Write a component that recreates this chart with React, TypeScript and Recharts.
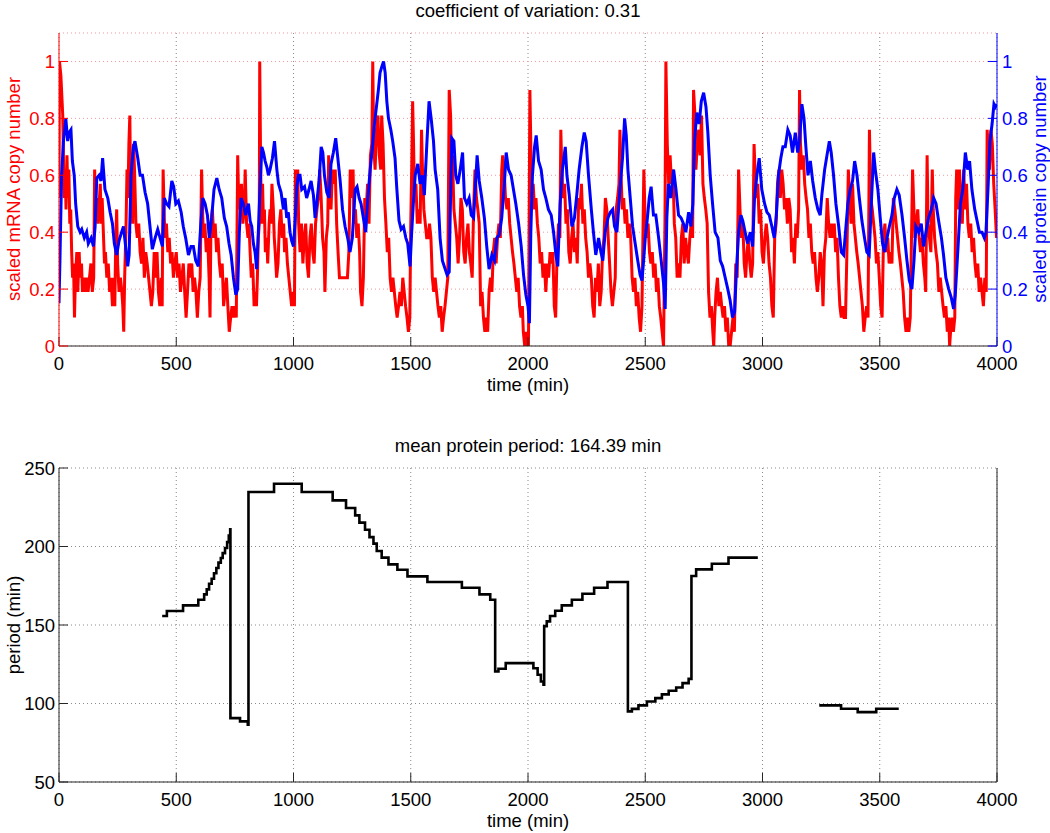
import React from 'react';
import { LineChart, Line, XAxis, YAxis, CartesianGrid } from 'recharts';

const FONT = '"Liberation Sans", Arial, Helvetica, sans-serif';
const FS = 18.5;

const timeTicks = [0, 500, 1000, 1500, 2000, 2500, 3000, 3500, 4000];
const scaledTicks = [0, 0.2, 0.4, 0.6, 0.8, 1];
const periodTicks = [50, 100, 150, 200, 250];

// scaled mRNA copy number: [time (min), value]
const mrnaPoints: [number, number][] = [
  [0,0.52],[2,1.0],[8,0.95],[16,0.81],[22,0.52],[26,0.62],[30,0.48],[34,0.67],[38,0.52],[42,0.62],[46,0.43],[50,0.48],[54,0.33],[58,0.24],[62,0.29],[66,0.1],[70,0.24],[76,0.33],[80,0.19],[86,0.33],[90,0.24],[96,0.29],[100,0.19],[106,0.24],[112,0.19],[118,0.24],[124,0.19],[130,0.24],[136,0.29],[142,0.19],[148,0.24],[152,0.62],[156,0.48],[160,0.52],[166,0.43],[170,0.48],[176,0.57],[180,0.43],[184,0.52],[190,0.38],[194,0.29],[198,0.33],[204,0.24],[210,0.29],[216,0.19],[222,0.24],[228,0.14],[234,0.24],[238,0.14],[242,0.38],[246,0.48],[250,0.29],[256,0.19],[262,0.24],[268,0.19],[272,0.14],[276,0.05],[280,0.24],[286,0.43],[290,0.62],[294,0.52],[298,0.71],[302,0.81],[306,0.52],[310,0.62],[314,0.43],[318,0.71],[322,0.62],[328,0.43],[334,0.38],[340,0.43],[346,0.33],[352,0.29],[358,0.38],[364,0.24],[370,0.33],[376,0.29],[382,0.24],[388,0.19],[394,0.14],[400,0.19],[406,0.33],[412,0.24],[418,0.33],[424,0.19],[430,0.14],[436,0.24],[440,0.14],[444,0.62],[448,0.48],[452,0.38],[458,0.43],[464,0.33],[470,0.38],[476,0.29],[482,0.33],[488,0.24],[494,0.29],[500,0.33],[506,0.24],[512,0.29],[518,0.19],[524,0.24],[530,0.29],[536,0.19],[542,0.1],[548,0.19],[554,0.29],[560,0.24],[566,0.29],[572,0.19],[578,0.24],[584,0.19],[590,0.1],[596,0.19],[602,0.24],[608,0.62],[612,0.48],[616,0.38],[622,0.43],[628,0.33],[634,0.38],[640,0.24],[644,0.1],[648,0.43],[654,0.48],[660,0.38],[666,0.43],[672,0.33],[678,0.38],[684,0.29],[690,0.24],[696,0.29],[702,0.14],[708,0.19],[714,0.24],[720,0.14],[726,0.05],[732,0.1],[738,0.14],[744,0.1],[750,0.14],[756,0.1],[762,0.67],[766,0.52],[772,0.48],[778,0.57],[784,0.43],[790,0.48],[794,0.62],[800,0.43],[806,0.38],[810,0.43],
  [815,0.33],[820,0.24],[826,0.29],[832,0.14],[838,0.19],[842,0.14],[846,0.24],[850,0.38],[854,0.43],[856,1.0],[860,0.62],[864,0.43],[868,0.57],[872,0.43],[876,0.48],[880,0.33],[886,0.38],[890,0.29],[896,0.43],[900,0.48],[904,0.43],[908,0.57],[914,0.48],[918,0.38],[922,0.33],[928,0.24],[934,0.29],[940,0.43],[946,0.48],[952,0.38],[958,0.43],[962,0.33],[968,0.38],[974,0.29],[980,0.24],[986,0.19],[992,0.14],[998,0.19],[1004,0.14],[1008,0.62],[1012,0.48],[1018,0.62],[1022,0.43],[1028,0.33],[1034,0.43],[1040,0.29],[1046,0.38],[1052,0.43],[1058,0.29],[1064,0.24],[1070,0.38],[1076,0.43],[1082,0.33],[1088,0.29],[1094,0.43],[1100,0.48],[1106,0.52],[1112,0.62],[1118,0.52],[1124,0.38],[1130,0.33],[1134,0.19],[1140,0.38],[1146,0.43],[1150,0.67],[1154,0.52],[1160,0.48],[1166,0.62],[1172,0.57],[1178,0.62],[1184,0.43],[1190,0.33],[1196,0.24],[1230,0.24],[1236,0.33],[1242,0.62],[1248,0.52],[1254,0.62],[1258,0.43],[1264,0.48],[1270,0.38],[1276,0.43],[1282,0.33],[1286,0.19],[1292,0.14],[1298,0.24],[1304,0.52],[1310,0.48],[1316,0.57],[1322,0.43],[1328,0.67],[1334,0.71],[1338,1.0],[1342,0.71],[1348,0.62],[1354,0.76],[1360,0.81],[1366,0.67],[1372,0.62],[1376,0.81],[1382,0.71],[1388,0.52],[1394,0.43],[1400,0.33],[1406,0.38],[1412,0.24],[1418,0.19],[1424,0.24],[1430,0.19],[1436,0.14],[1442,0.1],[1448,0.14],[1454,0.19],[1460,0.14],[1466,0.24],[1472,0.19],[1478,0.14],[1484,0.1],[1490,0.05],[1496,0.1],[1500,0.43],[1504,0.62],[1508,0.86],[1512,0.71],[1516,0.52],[1522,0.57],[1528,0.43],[1534,0.48],[1540,0.43],[1546,0.76],[1550,0.62],[1556,0.48],[1562,0.43],[1568,0.38],[1574,0.38],[1580,0.43],[1586,0.38],[1592,0.24],[1598,0.19],
  [1604,0.24],[1610,0.19],[1616,0.14],[1622,0.1],[1628,0.14],[1634,0.05],[1640,0.1],[1646,0.14],[1652,0.19],[1658,0.24],[1664,0.9],[1670,0.81],[1674,0.62],[1678,0.67],[1684,0.48],[1690,0.43],[1696,0.38],[1702,0.29],[1708,0.38],[1714,0.52],[1720,0.48],[1726,0.33],[1732,0.29],[1738,0.38],[1744,0.43],[1750,0.33],[1756,0.29],[1762,0.24],[1768,0.48],[1774,0.62],[1780,0.52],[1786,0.48],[1792,0.43],[1798,0.14],[1804,0.19],[1810,0.1],[1816,0.05],[1822,0.1],[1828,0.05],[1834,0.19],[1840,0.24],[1846,0.19],[1852,0.33],[1858,0.38],[1864,0.29],[1870,0.38],[1876,0.43],[1882,0.38],[1888,0.62],[1892,0.67],[1898,0.62],[1904,0.52],[1910,0.48],[1916,0.52],[1922,0.43],[1928,0.38],[1934,0.33],[1940,0.29],[1946,0.24],[1952,0.19],[1958,0.24],[1964,0.14],[1970,0.1],[1976,0.14],[1980,0.05],[1986,0],[1992,0.05],[1998,0],
  [2002,0],[2008,0.9],[2012,0.71],[2016,0.52],[2022,0.57],[2028,0.48],[2034,0.52],[2040,0.43],[2046,0.38],[2052,0.29],[2058,0.33],[2064,0.24],[2070,0.29],[2076,0.19],[2082,0.29],[2088,0.24],[2094,0.33],[2100,0.29],[2106,0.33],[2112,0.14],[2118,0.1],[2124,0.33],[2130,0.43],[2136,0.38],[2140,0.76],[2144,0.62],[2150,0.52],[2156,0.57],[2162,0.43],[2168,0.48],[2174,0.33],[2180,0.29],[2186,0.38],[2192,0.43],[2198,0.33],[2204,0.38],[2210,0.29],[2216,0.52],[2222,0.48],[2228,0.57],[2234,0.43],[2240,0.48],[2246,0.38],[2252,0.33],[2258,0.24],[2264,0.29],[2270,0.24],[2276,0.14],[2282,0.1],[2288,0.24],[2294,0.19],[2300,0.29],[2306,0.14],[2312,0.19],[2318,0.33],[2324,0.38],[2330,0.52],[2336,0.48],[2342,0.38],[2348,0.29],[2354,0.19],[2360,0.14],[2366,0.19],[2372,0.24],[2376,0.48],[2382,0.52],[2388,0.57],[2392,0.76],[2396,0.62],[2402,0.48],[2408,0.52],[2414,0.43],[2420,0.48],[2426,0.38],[2432,0.43],
  [2438,0.38],[2444,0.24],[2450,0.19],[2456,0.24],[2462,0.14],[2468,0.19],[2474,0.1],[2480,0.05],[2486,0.14],[2494,0.62],[2500,0.43],[2506,0.38],[2512,0.43],[2518,0.33],[2524,0.29],[2530,0.33],[2536,0.24],[2542,0.29],[2548,0.19],[2554,0.24],[2560,0.14],[2566,0.1],[2572,0.05],[2578,0],[2584,0.43],[2588,1.0],[2594,0.71],[2600,0.57],[2606,0.67],[2612,0.57],[2618,0.62],[2624,0.43],[2630,0.38],[2636,0.24],[2642,0.29],[2648,0.24],[2654,0.38],[2660,0.43],[2666,0.29],[2672,0.38],[2678,0.33],[2684,0.29],[2690,0.38],[2696,0.43],[2702,0.38],[2706,0.9],[2712,0.81],[2716,0.62],[2722,0.71],[2728,0.76],[2734,0.67],[2740,0.81],[2746,0.57],[2752,0.52],[2758,0.48],[2764,0.43],[2770,0.19],[2776,0.1],[2782,0.14],[2788,0.05],[2792,0],[2796,0.1],[2802,0.19],[2808,0.24],[2814,0.14],[2820,0.19],[2826,0.14],[2832,0.1],[2838,0.14],[2844,0.05],[2850,0.1],[2856,0],[2862,0],[2868,0.05],[2874,0.1],[2880,0.05],[2886,0.29],[2892,0.24],[2898,0.62],[2904,0.48],[2910,0.38],[2916,0.43],[2922,0.29],[2928,0.24],[2934,0.33],[2940,0.38],[2946,0.29],[2952,0.24],[2958,0.29],[2964,0.71],[2968,0.62],[2974,0.52],[2980,0.57],[2986,0.43],[2992,0.48],[2998,0.33],[3004,0.29],[3010,0.38],[3016,0.43],[3022,0.38],[3028,0.29],[3034,0.24],[3040,0.14],[3046,0.1],[3052,0.38],[3058,0.43],[3064,0.57],[3070,0.62],[3076,0.52],[3082,0.62],[3088,0.57],[3094,0.48],[3100,0.52],[3106,0.43],[3112,0.52],[3118,0.48],[3124,0.33],[3130,0.38],[3136,0.29],[3142,0.43],[3148,0.38],[3154,0.48],[3158,0.9],[3162,0.71],[3168,0.62],[3174,0.67],[3180,0.57],[3186,0.52],[3192,0.48],[3198,0.38],[3204,0.43],[3210,0.33],[3216,0.29],[3222,0.33],[3228,0.24],[3234,0.19],[3240,0.24],
  [3246,0.33],[3252,0.29],[3258,0.14],[3264,0.33],[3270,0.38],[3276,0.52],[3282,0.43],[3288,0.38],[3294,0.43],[3300,0.38],[3306,0.43],[3312,0.33],[3318,0.38],[3324,0.24],[3330,0.14],[3336,0.1],[3342,0.14],[3348,0.1],[3354,0.1],[3360,0.33],[3366,0.62],[3372,0.52],[3378,0.43],[3384,0.57],[3390,0.43],[3396,0.38],[3402,0.33],[3408,0.29],[3414,0.24],[3420,0.19],[3426,0.14],[3432,0.05],[3438,0.1],[3444,0.14],[3450,0.1],[3456,0.76],[3462,0.52],[3468,0.48],[3474,0.43],[3480,0.38],[3486,0.29],[3492,0.33],[3498,0.24],[3504,0.14],[3510,0.1],[3516,0.38],[3522,0.43],[3528,0.33],[3534,0.38],[3540,0.29],[3546,0.33],[3552,0.29],[3558,0.52],[3564,0.48],[3570,0.43],[3576,0.38],[3582,0.33],[3588,0.29],[3594,0.24],[3600,0.19],[3606,0.1],[3612,0.05],[3618,0.1],[3624,0.05],[3630,0.1],[3640,0.62],[3644,0.52],[3650,0.38],[3656,0.43],[3662,0.48],[3668,0.38],[3674,0.33],[3680,0.38],[3686,0.29],[3692,0.24],[3696,0.19],[3702,0.67],[3706,0.43],[3712,0.38],[3718,0.33],[3724,0.62],[3728,0.48],[3734,0.38],[3740,0.33],[3746,0.29],[3752,0.19],[3758,0.24],[3764,0.19],[3770,0.14],[3776,0.1],[3782,0.14],[3788,0.05],[3794,0.1],[3798,0],[3802,0.05],[3808,0.1],[3814,0.05],[3820,0.1],[3824,0.52],[3828,0.62],[3834,0.48],[3840,0.62],[3846,0.52],[3852,0.43],[3858,0.62],[3864,0.48],[3870,0.57],[3876,0.43],[3882,0.38],[3888,0.43],[3894,0.33],[3900,0.38],[3906,0.29],[3912,0.24],[3918,0.29],[3924,0.19],[3930,0.24],[3936,0.19],[3942,0.14],[3948,0.24],[3954,0.19],[3958,0.76],[3962,0.71],[3968,0.62],[3974,0.76],[3980,0.71],[3986,0.57],[3992,0.48],[3998,0.38]
];

// scaled protein copy number: [time (min), value]
const proteinPoints: [number, number][] = [
  [0,0.15],[4,0.3],[11,0.6],[19,0.72],[29,0.8],[37,0.72],[43,0.75],[51,0.76],[57,0.65],[65,0.6],[71,0.5],[80,0.42],[90,0.4],[97,0.41],[108,0.38],[118,0.4],[125,0.36],[137,0.38],[147,0.35],[154,0.42],[161,0.59],[171,0.6],[179,0.58],[186,0.66],[196,0.55],[208,0.52],[218,0.47],[228,0.43],[236,0.36],[246,0.32],[256,0.37],[267,0.4],[275,0.42],[284,0.35],[293,0.28],[299,0.32],[307,0.6],[317,0.7],[324,0.72],[336,0.66],[346,0.6],[356,0.6],[367,0.54],[378,0.5],[388,0.42],[398,0.34],[410,0.38],[421,0.41],[431,0.38],[441,0.35],[449,0.52],[459,0.5],[469,0.49],[481,0.58],[489,0.56],[498,0.5],[509,0.51],[521,0.47],[530,0.42],[540,0.38],[552,0.32],[563,0.35],[573,0.35],[583,0.3],[594,0.28],[604,0.42],[613,0.52],[623,0.5],[633,0.46],[641,0.38],[651,0.45],[661,0.55],[673,0.59],[683,0.55],[694,0.52],[705,0.45],[715,0.42],[725,0.36],[734,0.32],[744,0.24],[754,0.18],[762,0.2],[769,0.4],[776,0.52],[786,0.5],[796,0.46],[808,0.5],
  [815,0.44],[822,0.42],[829,0.36],[836,0.33],[843,0.27],[850,0.4],[857,0.55],[865,0.7],[872,0.68],[879,0.65],[886,0.63],[893,0.6],[900,0.62],[910,0.66],[919,0.72],[929,0.62],[936,0.57],[947,0.54],[957,0.48],[964,0.52],[971,0.45],[978,0.47],[985,0.4],[992,0.37],[1000,0.35],[1007,0.44],[1014,0.56],[1021,0.6],[1028,0.6],[1035,0.55],[1047,0.56],[1056,0.52],[1066,0.55],[1075,0.58],[1085,0.53],[1092,0.45],[1099,0.5],[1109,0.58],[1118,0.7],[1125,0.68],[1132,0.6],[1142,0.54],[1152,0.52],[1160,0.64],[1170,0.68],[1180,0.73],[1189,0.66],[1199,0.58],[1209,0.48],[1220,0.42],[1231,0.38],[1241,0.33],[1251,0.38],[1263,0.55],[1271,0.56],[1280,0.52],[1288,0.5],[1298,0.45],[1308,0.4],[1317,0.52],[1327,0.62],[1337,0.7],[1345,0.78],[1355,0.85],[1362,0.9],[1369,0.96],[1376,0.98],[1384,1.0],[1391,0.96],[1398,0.86],[1405,0.8],[1415,0.76],[1423,0.72],[1433,0.66],[1440,0.56],[1450,0.44],[1459,0.41],[1469,0.42],[1479,0.38],[1487,0.36],[1497,0.28],[1504,0.4],[1511,0.5],[1519,0.6],[1530,0.64],[1540,0.57],[1550,0.6],[1558,0.53],[1568,0.7],[1578,0.86],[1587,0.8],[1597,0.72],
  [1604,0.62],[1615,0.55],[1625,0.38],[1635,0.3],[1647,0.27],[1655,0.25],[1664,0.26],[1668,0.45],[1675,0.73],[1684,0.72],[1692,0.6],[1701,0.57],[1711,0.62],[1721,0.68],[1729,0.52],[1739,0.5],[1749,0.52],[1758,0.46],[1768,0.45],[1775,0.55],[1783,0.67],[1792,0.58],[1803,0.52],[1814,0.45],[1824,0.35],[1834,0.27],[1846,0.32],[1857,0.3],[1867,0.38],[1877,0.39],[1888,0.45],[1900,0.58],[1907,0.68],[1917,0.62],[1928,0.6],[1938,0.55],[1948,0.5],[1960,0.43],[1971,0.35],[1981,0.25],[1991,0.18],[2000,0.14],[2006,0.08],[2012,0.4],[2019,0.6],[2028,0.7],[2035,0.74],[2045,0.65],[2056,0.62],[2066,0.55],[2076,0.52],[2087,0.48],[2099,0.46],[2109,0.4],[2119,0.32],[2127,0.28],[2137,0.5],[2147,0.62],[2159,0.7],[2166,0.6],[2176,0.53],[2187,0.42],[2198,0.45],[2208,0.53],[2218,0.62],[2230,0.7],[2240,0.75],[2248,0.72],[2258,0.6],[2270,0.48],[2279,0.4],[2289,0.32],[2301,0.38],[2311,0.33],[2319,0.3],[2329,0.4],[2341,0.45],[2351,0.47],[2361,0.48],[2369,0.42],[2379,0.4],[2386,0.48],[2395,0.58],[2403,0.66],[2412,0.8],
  [2419,0.74],[2426,0.62],[2436,0.52],[2446,0.42],[2457,0.36],[2468,0.3],[2478,0.25],[2486,0.23],[2493,0.3],[2500,0.38],[2508,0.44],[2517,0.52],[2525,0.56],[2535,0.46],[2545,0.46],[2557,0.38],[2568,0.3],[2578,0.22],[2585,0.13],[2592,0.45],[2599,0.57],[2609,0.52],[2621,0.62],[2631,0.55],[2642,0.46],[2653,0.45],[2663,0.43],[2673,0.4],[2685,0.47],[2695,0.42],[2703,0.5],[2710,0.72],[2720,0.82],[2730,0.78],[2739,0.86],[2749,0.89],[2759,0.84],[2767,0.75],[2777,0.6],[2787,0.5],[2798,0.4],[2810,0.38],[2820,0.3],[2830,0.28],[2841,0.24],[2852,0.2],[2862,0.16],[2872,0.1],[2881,0.12],[2888,0.25],[2898,0.4],[2908,0.46],[2916,0.44],[2926,0.4],[2936,0.36],[2948,0.4],[2958,0.35],[2966,0.52],[2976,0.6],[2986,0.66],[2997,0.55],[3009,0.5],[3019,0.47],[3029,0.46],[3040,0.42],[3050,0.38],[3059,0.46],[3068,0.6],[3078,0.66],[3087,0.7],[3097,0.7],[3108,0.76],[3118,0.74],[3128,0.68],[3140,0.75],[3150,0.68],[3158,0.72],[3168,0.85],[3177,0.8],[3185,0.7],[3194,0.6],[3204,0.65],[3214,0.58],[3225,0.52],
  [3236,0.48],[3246,0.46],[3253,0.53],[3265,0.62],[3275,0.67],[3285,0.72],[3293,0.68],[3303,0.6],[3313,0.5],[3325,0.42],[3336,0.33],[3346,0.32],[3356,0.42],[3364,0.5],[3374,0.55],[3384,0.58],[3393,0.65],[3403,0.6],[3413,0.52],[3424,0.44],[3435,0.38],[3445,0.33],[3455,0.32],[3464,0.5],[3474,0.68],[3481,0.62],[3492,0.55],[3502,0.45],[3512,0.36],[3521,0.33],[3531,0.38],[3541,0.42],[3552,0.46],[3562,0.52],[3573,0.55],[3583,0.53],[3595,0.46],[3606,0.38],[3616,0.3],[3626,0.23],[3637,0.2],[3646,0.3],[3654,0.42],[3666,0.4],[3677,0.43],[3687,0.35],[3697,0.4],[3708,0.45],[3720,0.48],[3730,0.52],[3740,0.5],[3751,0.44],[3763,0.38],[3772,0.32],[3782,0.24],[3794,0.2],[3805,0.17],[3815,0.13],[3822,0.18],[3834,0.35],[3844,0.5],[3854,0.55],[3865,0.68],[3875,0.62],[3883,0.65],[3893,0.55],[3905,0.48],[3915,0.44],[3925,0.4],[3936,0.4],[3946,0.38],[3953,0.4],[3962,0.56],[3970,0.72],[3979,0.78],[3987,0.85],[3993,0.84],[4000,0.85]
];

// protein period (min): [time (min), period]; null = no estimate
const periodPoints: [number, number | null][] = [
  [440,155.7],[460,158.9],[529,162.5],[594,166.1],[619,169.5],[630,172.7],[640,176.3],[651,179.5],[661,183],[671,186.3],[680,189.7],[690,192.7],[698,195.8],[708,199],[717,202.8],[724,207],[730,211],[731,90.7],[772,88.6],[805,86.5],[808,234.7],[917,240],[1035,234.7],[1167,229.4],[1224,224.5],[1263,219.8],[1281,215.2],[1305,210.7],[1324,206],[1341,201.8],[1355,197.1],[1376,192.9],[1405,188.6],[1443,185.2],[1486,181],[1571,177.4],[1718,173.7],[1793,169.5],[1839,166.1],[1860,120.4],[1874,122.1],[1905,125.7],[2023,122.5],[2041,118.3],[2055,114],[2066,112],[2069,149.3],[2080,152.3],[2094,155.7],[2116,159.1],[2144,162.5],[2187,166.1],[2232,169.9],[2282,173.7],[2339,177.4],[2426,95],[2443,96.6],[2471,98.8],[2507,101.3],[2543,103.4],[2571,105.8],[2600,108.1],[2632,110.2],[2659,113],[2685,115.7],[2697,181.2],[2717,185.4],[2784,189],[2855,192.9],[2980,192.9],[2981,null],
  [3242,98.8],[3335,96.7],[3406,94.5],[3485,96.7],[3581,96.7]
];

const mrnaData = mrnaPoints.map(([t, v]) => ({ t, v }));
const proteinData = proteinPoints.map(([t, v]) => ({ t, v }));
const periodData = periodPoints.map(([t, p]) => ({ t, p }));

const AXIS_DARK = '#262626';
const GRID_GRAY = '#8a8a8a';
const GRID_PINK = '#f19a9a';
const RED = '#ff0000';
const BLUE = '#0000ff';

const tickStyle = (fill: string) => ({ fill, fontSize: FS, fontFamily: FONT });

export default function App() {
  return (
    <div style={{ position: 'absolute', left: 0, top: 0, width: 1050, height: 833, background: '#fff', overflow: 'hidden' }}>
      <div style={{ position: 'absolute', left: 0, top: 0 }}>
        <LineChart width={1050} height={400} margin={{ top: 33, right: 0, bottom: 0, left: 0 }}>
          <CartesianGrid xAxisId="x" yAxisId="L" horizontal={false} stroke={GRID_GRAY} strokeDasharray="1 3" />
          <CartesianGrid xAxisId="x" yAxisId="L" vertical={false} stroke={GRID_PINK} strokeDasharray="1 3" />
          <XAxis xAxisId="x" dataKey="t" type="number" domain={[0, 4000]} ticks={timeTicks} interval={0}
            height={54} tickSize={-9} tickMargin={20} stroke={AXIS_DARK} tick={tickStyle('#000')} allowDataOverflow />
          <XAxis xAxisId="top" orientation="top" type="number" domain={[0, 4000]} ticks={timeTicks} interval={0}
            height={0} tickSize={-9} tick={false} stroke={AXIS_DARK} allowDataOverflow />
          <YAxis yAxisId="L" type="number" domain={[0, 1.1]} ticks={scaledTicks} interval={0} width={59}
            tickSize={-9} tickMargin={13} stroke={RED} tick={tickStyle(RED)} allowDataOverflow />
          <YAxis yAxisId="R" orientation="right" type="number" domain={[0, 1.1]} ticks={scaledTicks} interval={0} width={53}
            tickSize={-9} tickMargin={14} stroke={BLUE} tick={tickStyle(BLUE)} allowDataOverflow />
          <Line xAxisId="x" yAxisId="L" data={mrnaData} dataKey="v" type="linear" stroke={RED} strokeWidth={3}
            dot={false} activeDot={false} isAnimationActive={false} />
          <Line xAxisId="x" yAxisId="R" data={proteinData} dataKey="v" type="linear" stroke={BLUE} strokeWidth={3}
            dot={false} activeDot={false} isAnimationActive={false} />
        </LineChart>
      </div>
      <div style={{ position: 'absolute', left: 0, top: 400 }}>
        <LineChart width={1050} height={433} margin={{ top: 68, right: 0, bottom: 0, left: 0 }}>
          <CartesianGrid xAxisId="x" yAxisId="L" stroke={GRID_GRAY} strokeDasharray="1 3" />
          <XAxis xAxisId="x" dataKey="t" type="number" domain={[0, 4000]} ticks={timeTicks} interval={0}
            height={51} tickSize={-9} tickMargin={20} stroke={AXIS_DARK} tick={tickStyle('#000')} allowDataOverflow />
          <XAxis xAxisId="top" orientation="top" type="number" domain={[0, 4000]} ticks={timeTicks} interval={0}
            height={0} tickSize={-9} tick={false} stroke={AXIS_DARK} allowDataOverflow />
          <YAxis yAxisId="L" type="number" domain={[50, 250]} ticks={periodTicks} interval={0} width={59}
            tickSize={-9} tickMargin={13} stroke={AXIS_DARK} tick={tickStyle('#000')} allowDataOverflow />
          <YAxis yAxisId="R" orientation="right" type="number" domain={[50, 250]} ticks={periodTicks} interval={0} width={53}
            tickSize={-9} tick={false} stroke={AXIS_DARK} allowDataOverflow />
          <Line xAxisId="x" yAxisId="L" data={periodData} dataKey="p" type="stepAfter" stroke="#000" strokeWidth={2.6}
            dot={false} activeDot={false} connectNulls={false} isAnimationActive={false} />
        </LineChart>
      </div>
      <svg width={1050} height={833} style={{ position: 'absolute', left: 0, top: 0, pointerEvents: 'none' }}
        fontFamily={FONT} fontSize={FS}>
        <text x={528} y={16.7} textAnchor="middle" fill="#000">coefficient of variation: 0.31</text>
        <text x={528} y={391} textAnchor="middle" fill="#000">time (min)</text>
        <text x={528} y={452} textAnchor="middle" fill="#000">mean protein period: 164.39 min</text>
        <text x={528} y={827} textAnchor="middle" fill="#000">time (min)</text>
        <text transform="translate(19.5,189) rotate(-90)" textAnchor="middle" fill={RED}>scaled mRNA copy number</text>
        <text transform="translate(1046,189) rotate(-90)" textAnchor="middle" fill={BLUE}>scaled protein copy number</text>
        <text transform="translate(19.5,625) rotate(-90)" textAnchor="middle" fill="#000">period (min)</text>
      </svg>
    </div>
  );
}
